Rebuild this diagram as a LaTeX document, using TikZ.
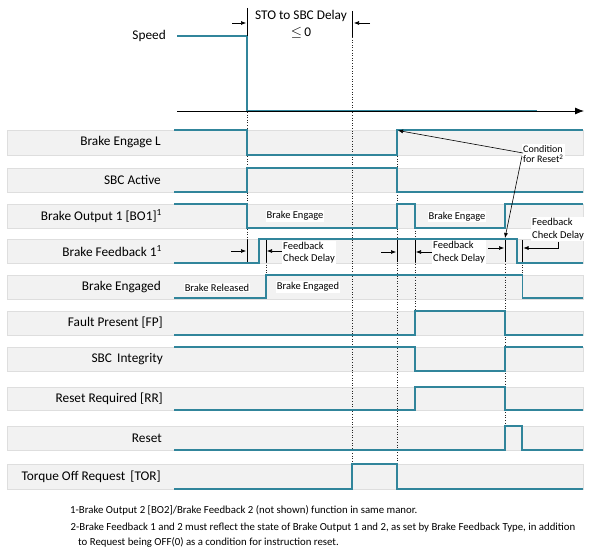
\documentclass[tikz,border=0pt]{standalone}
\usepackage{fontspec}
\setmainfont{Carlito}
\usetikzlibrary{arrows.meta}
\definecolor{sigteal}{RGB}{49,133,155}
\definecolor{barfill}{RGB}{242,242,242}
\definecolor{barline}{RGB}{222,222,222}
\begin{document}
\begin{tikzpicture}[x=1pt,y=-1pt,
  bar/.style={fill=barfill, draw=barline, line width=0.6pt},
  sig/.style={draw=sigteal, line width=1.6pt, line join=miter},
  lbl/.style={anchor=east, font=\fontsize{13.3}{15}\selectfont, inner sep=0pt},
  small/.style={font=\fontsize{10.5}{12.5}\selectfont, fill=white, inner sep=1pt, align=left},
  guide/.style={dotted, line width=0.6pt, black!85},
  tickmark/.style={line width=0.8pt, black},
  dimarrow/.style={-{Latex[length=5pt,width=4pt]}, line width=0.6pt},
  note/.style={anchor=west, font=\fontsize{10.8}{12}\selectfont, inner sep=0pt},
]
\useasboundingbox (0,0) rectangle (597,548);

% background bars
\foreach \t/\b in {130/155,168/192,204/228,239/263,275/299,311/335,347/371,387/410,426/450,464/489}
  \draw[bar] (7,\t) rectangle (583,\b);

% labels
\node[lbl] (lspeed) at (166,36) {Speed};
\node[lbl] (l1) at (161,142.5) {Brake Engage L};
\node[lbl] (l2) at (161,180) {SBC Active};
\node[lbl] (l3) at (162,216) {Brake Output 1 [BO1]\textsuperscript{1}};
\node[lbl] (l4) at (162,251) {Brake Feedback 1\textsuperscript{1}};
\node[lbl] (l5) at (161,287) {Brake Engaged};
\node[lbl] (l6) at (163,323) {Fault Present [FP]};
\node[lbl] (l7) at (163,359) {SBC\, Integrity};
\node[lbl] (l8) at (163,398.5) {Reset Required [RR]};
\node[lbl] (l9) at (162,438) {Reset};
\node[lbl] (l10) at (161,476.5) {Torque Off Request\, [TOR]};

% guide lines
\draw[guide] (247,112) -- (247,240);
\draw[guide] (352,37) -- (352,464);
\draw[guide] (397,130) -- (397,464);
\draw[guide] (415,228) -- (415,311);
\draw[guide] (505,238) -- (505,426);
\draw[guide] (522.5,262) -- (522.5,275);
\draw[guide] (266,262) -- (266,275);

% speed axis
\coordinate (axs) at (177,111);
\coordinate (axe) at (584,111);
\draw[line width=0.8pt, -{Latex[length=9pt,width=7pt]}] (axs) -- (axe);
\draw[sig] (177,36) -- (247,36) -- (247,110.5) -- (537,110.5);

% STO to SBC delay
\node[font=\fontsize{13.3}{17}\selectfont, align=center, fill=white, inner sep=1pt] (sto) at (301,24) {STO to SBC Delay\\$\leq$\,0};
\draw[tickmark] (247,8) -- (247,36);
\draw[tickmark] (352.5,11) -- (352.5,37);
\coordinate (a1s) at (232,23); \coordinate (a1e) at (246,23);
\coordinate (a2s) at (370,23); \coordinate (a2e) at (354,23);
\draw[dimarrow] (a1s) -- (a1e);
\draw[dimarrow] (a2s) -- (a2e);

% waveforms
\draw[sig] (174,130) -- (247,130) -- (247,155) -- (397,155) -- (397,130) -- (583,130);
\draw[sig] (174,192) -- (247,192) -- (247,168) -- (397,168) -- (397,192) -- (583,192);
\draw[sig] (174,204) -- (247,204) -- (247,228) -- (397,228) -- (397,204) -- (415,204) -- (415,228) -- (505,228) -- (505,204) -- (583,204);
\draw[sig] (174,263) -- (259,263) -- (259,239) -- (517,239) -- (517,263) -- (583,263);
\draw[sig] (174,298) -- (266,298) -- (266,275) -- (522.5,275) -- (522.5,298) -- (583,298);
\draw[sig] (174,335) -- (415,335) -- (415,311) -- (505,311) -- (505,335) -- (583,335);
\draw[sig] (174,347) -- (415,347) -- (415,371) -- (505,371) -- (505,347) -- (583,347);
\draw[sig] (174,410) -- (415,410) -- (415,387) -- (505,387) -- (505,410) -- (583,410);
\draw[sig] (174,450) -- (505,450) -- (505,426) -- (522,426) -- (522,450) -- (583,450);
\draw[sig] (174,489) -- (352,489) -- (352,464) -- (397,464) -- (397,489) -- (583,489);

% ticks in brake feedback row
\foreach \x in {247,266,397,415,505,522.5}
  \draw[tickmark] (\x,240) -- (\x,262);

% in-row texts
\node[small] (be1) at (295,216) {Brake Engage};
\node[small] (be2) at (457,216.5) {Brake Engage};
\node[small] (brel) at (217,287.5) {Brake Released};
\node[small] (beng) at (308,287) {Brake Engaged};
\node[small, anchor=west] (fcd1) at (282,252.5) {Feedback\\Check Delay};
\node[small, anchor=west] (fcd2) at (432,252) {Feedback\\Check Delay};
\node[small, anchor=west] (fcd3) at (531,229) {Feedback\\Check Delay};

% feedback check delay arrows
\coordinate (b1s) at (231,251); \coordinate (b1e) at (246,251);
\coordinate (b2s) at (282,251); \coordinate (b2e) at (267,251);
\coordinate (b3s) at (381,252); \coordinate (b3e) at (396,252);
\coordinate (b4s) at (432,252); \coordinate (b4e) at (416,252);
\coordinate (b5s) at (488,248); \coordinate (b5e) at (504,248);
\coordinate (b6s) at (558,242); \coordinate (b6e) at (523.5,248);
\draw[dimarrow] (b1s) -- (b1e);
\draw[dimarrow] (b2s) -- (b2e);
\draw[dimarrow] (b3s) -- (b3e);
\draw[dimarrow] (b4s) -- (b4e);
\draw[dimarrow] (b5s) -- (b5e);
\draw[dimarrow] (b6s) |- (b6e);

% condition for reset
\node[font=\fontsize{10}{10.5}\selectfont, fill=white, inner sep=1pt, align=left, anchor=west] (cond) at (522,154) {Condition\\for Reset\textsuperscript{2}};
\coordinate (c0) at (523,153);
\coordinate (c1) at (398,130.5);
\coordinate (c0b) at (522,156);
\coordinate (c2) at (505,238);
\draw[dimarrow] (c0) -- (c1);
\draw[dimarrow] (c0b) -- (c2);

% footnotes
\node[note] (n1) at (70,510.5) {1-Brake Output 2 [BO2]/Brake Feedback 2 (not shown) function in same manor.};
\node[note] (n2) at (70.5,527.5) {2-Brake Feedback 1 and 2 must reflect the state of Brake Output 1 and 2, as set by Brake Feedback Type, in addition};
\node[note] (n3) at (78,542) {to Request being OFF(0) as a condition for instruction reset.};
\end{tikzpicture}
\end{document}
